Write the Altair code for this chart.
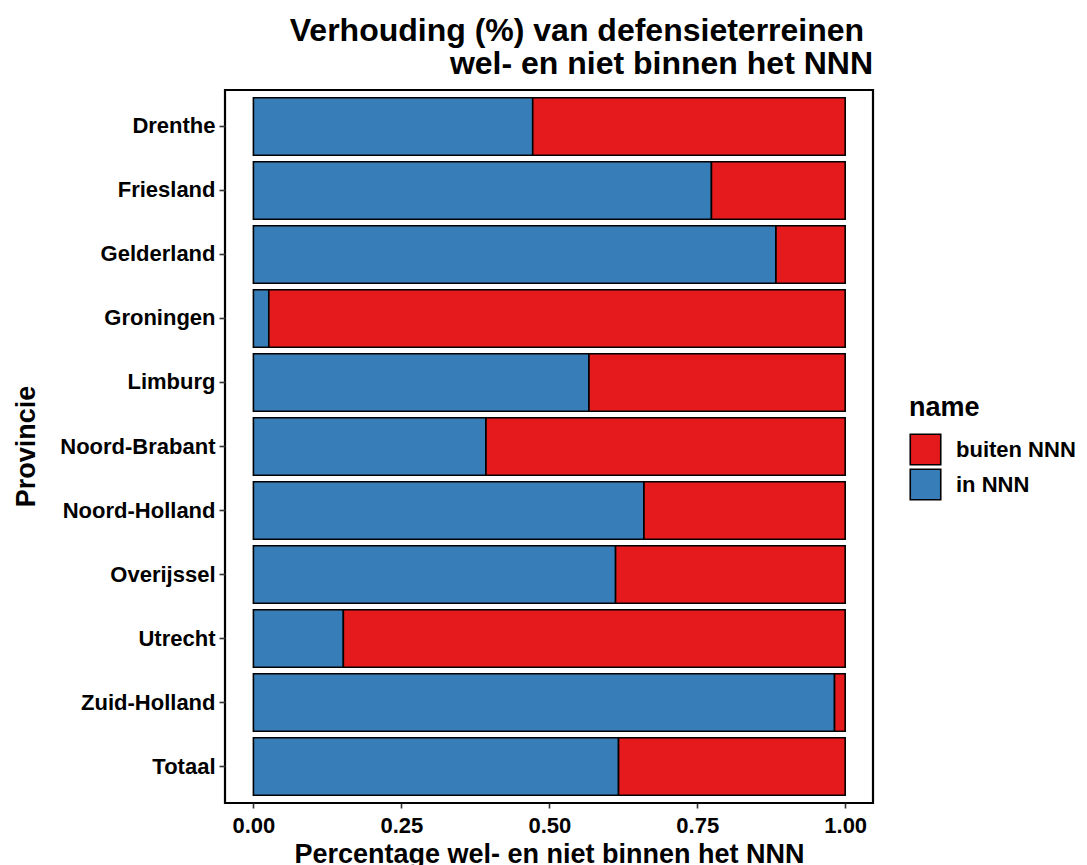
import altair as alt
import pandas as pd

provincies = ["Drenthe", "Friesland", "Gelderland", "Groningen", "Limburg",
              "Noord-Brabant", "Noord-Holland", "Overijssel", "Utrecht",
              "Zuid-Holland", "Totaal"]
in_nnn = [0.472, 0.774, 0.883, 0.026, 0.567, 0.393, 0.660, 0.612, 0.152, 0.982, 0.617]
categories = ["buiten NNN", "in NNN"]
colors = ["#E41A1C", "#377EB8"]

rows = []
for p, v in zip(provincies, in_nnn):
    rows.append({"Provincie": p, "name": "in NNN", "start": 0.0, "end": v})
    rows.append({"Provincie": p, "name": "buiten NNN", "start": v, "end": 1.0})
df = pd.DataFrame(rows)

FONT = "Liberation Sans"

chart = alt.Chart(df).mark_bar(stroke="black", strokeWidth=1.6).encode(
    y=alt.Y("Provincie:N", sort=provincies,
            scale=alt.Scale(paddingInner=0.1, paddingOuter=0.12),
            axis=alt.Axis(title="Provincie", titleAngle=-90, titleX=-191, titleY=356,
                          titleAlign="center", titleBaseline="alphabetic")),
    x=alt.X("start:Q", scale=alt.Scale(domain=[-0.048, 1.047], nice=False, zero=False),
            axis=alt.Axis(title="Percentage wel- en niet binnen het NNN",
                          values=[0, 0.25, 0.5, 0.75, 1.0], format=".2f",
                          titleX=324, titleY=59, titleAlign="center",
                          titleBaseline="alphabetic", labelPadding=7)),
    x2="end:Q",
    color=alt.Color("name:N", scale=alt.Scale(domain=categories, range=colors),
                    legend=alt.Legend(title="name", orient="none", legendX=684, legendY=305,
                                      symbolType="square", symbolSize=930,
                                      symbolStrokeColor="black", symbolStrokeWidth=1.6,
                                      symbolOpacity=1,
                                      rowPadding=-2, titlePadding=11, labelOffset=14,
                                      padding=0)),
).properties(
    width=648, height=713,
    title=alt.TitleParams(text=["Verhouding (%) van defensieterreinen \u200b",
                                "wel- en niet binnen het NNN"],
                          anchor="end", frame="group", baseline="bottom",
                          offset=10, dy=33, lineHeight=33, fontSize=32, font=FONT,
                          fontWeight="bold", color="black"),
    autosize=alt.AutoSizeParams(type="none"),
    padding={"left": 217, "top": 82, "right": 206, "bottom": 62},
).configure_view(
    stroke="black", strokeWidth=2.2
).configure_axis(
    labelFont=FONT, labelFontSize=22, labelFontWeight="bold", labelColor="black",
    titleFont=FONT, titleFontSize=27, titleFontWeight="bold", titleColor="black",
    tickColor="#333333", tickWidth=1.6, tickSize=5, domain=False, grid=False,
).configure_axisY(
    labelPadding=4, tickSize=6
).configure_legend(
    titleFont=FONT, titleFontSize=27, titleFontWeight="bold", titleColor="black",
    labelFont=FONT, labelFontSize=22, labelFontWeight="bold", labelColor="black",
)

chart.save("out.html", embed_options={"renderer": "svg", "actions": False})
